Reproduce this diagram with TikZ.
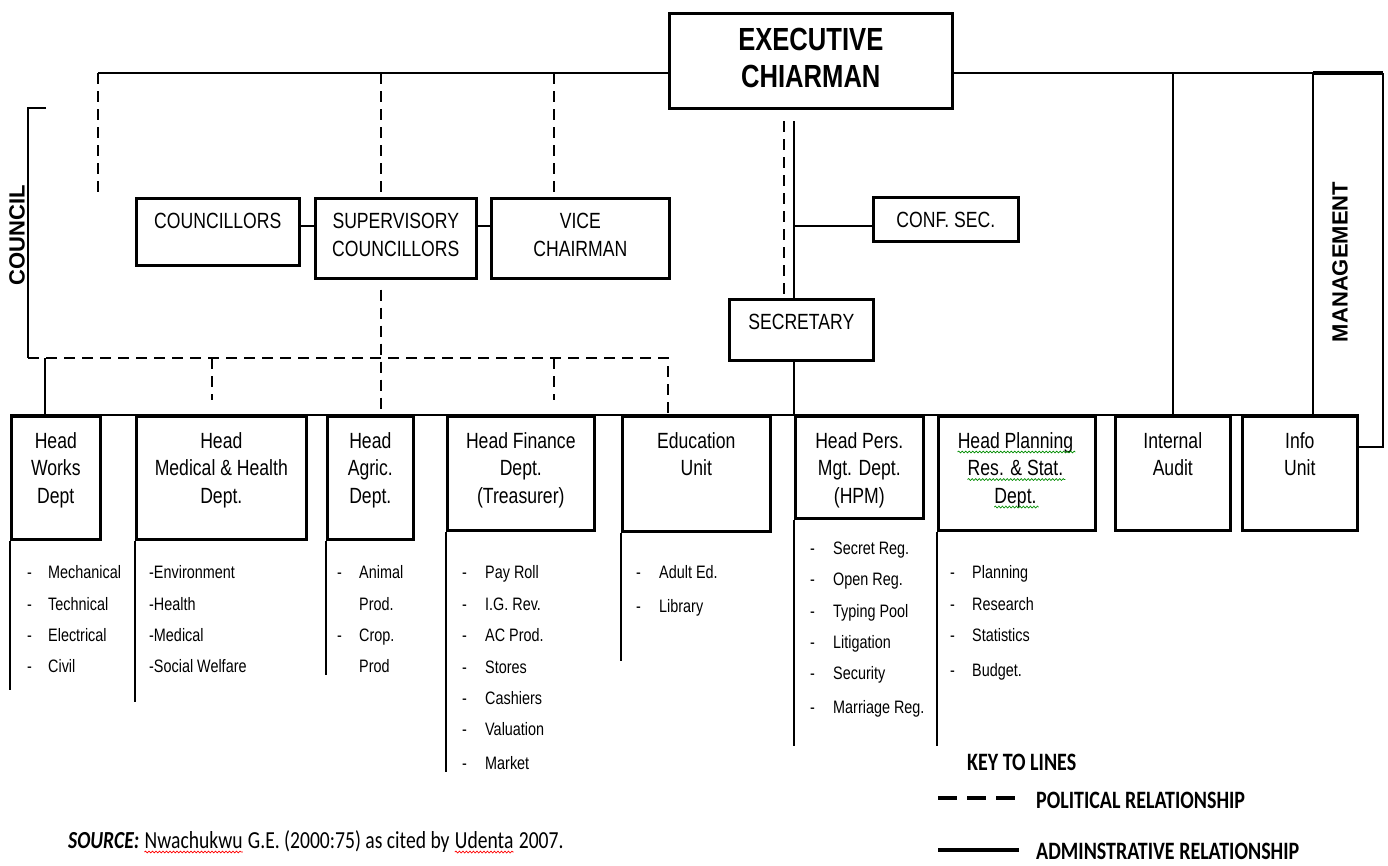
\documentclass[tikz,border=0pt]{standalone}
\usepackage{fontspec}
\setmainfont{Liberation Sans}[FakeStretch=0.8]
\newfontfamily\sidefont{Liberation Sans}
\newfontfamily\keyfont{Carlito}[FakeStretch=0.8]
\usetikzlibrary{positioning,calc,decorations.pathmorphing}

\begin{document}
\begin{tikzpicture}[x=1pt,y=-1pt,
    box/.style ={
        draw,
        line width=2.6pt,
        anchor=north west,
        inner sep=0pt
    },
    boxtext/.style ={
        anchor=north,
        align=center,
        inner sep=0pt,
        font=\fontsize{22}{27.5}\selectfont
    },
    planline/.style ={
        anchor=base,
        inner sep=0pt,
        font=\fontsize{22}{27.5}\selectfont
    },
    item/.style ={
        anchor=base west,
        inner sep=0pt,
        yshift=-6pt,
        font=\fontsize{18}{20}\selectfont
    },
    src/.style ={
        inner sep=0pt,
        font=\keyfont\fontsize{24.5}{26}\selectfont
    },
    keytext/.style ={
        anchor=west,
        inner sep=0pt,
        font=\keyfont\fontsize{25}{27}\selectfont\bfseries
    },
    wave/.style ={
        line width=0.7pt,
        decorate,
        decoration={snake, amplitude=0.9pt, segment length=3.5pt}
    },
    admin/.style ={line width=2.2pt},
    pol/.style ={line width=2.2pt, dash pattern=on 11pt off 7pt}
    ]
    \useasboundingbox (0,0) rectangle (1388,865);

    \node[box, minimum width=283pt, minimum height=95pt] (exec) at (668,12) {};
    \node[boxtext, font=\fontsize{32}{37}\selectfont\bfseries, below=16pt of exec.north] (exec-t) {EXECUTIVE\\CHIARMAN};

    \foreach \n/\x/\y/\w/\h/\t in {coun/135/197/163/67/COUNCILLORS, sup/314/197/161/80/{SUPERVISORY\\COUNCILLORS},
                                   vice/490/197/178/80/{VICE\\CHAIRMAN}, conf/872/196/145/44/{CONF. SEC.},
                                   sec/728/298/144/61/SECRETARY}
    {
        \node[box, minimum width=\w, minimum height=\h] (\n) at (\x,\y) {};
        \node[boxtext, below=16pt of \n.north] (\n-t) {\t};
    }

    \foreach \n/\x/\w/\h/\t in {works/10/89/123/{Head\\Works\\Dept}, med/135/170/123/{Head\\Medical \& Health\\Dept.},
                                agric/326/86/123/{Head\\Agric.\\Dept.}, fin/446/147/114/{Head Finance\\Dept.\\(Treasurer)},
                                edu/621/148/115/{Education\\Unit}, hpm/794/128/102/{Head Pers.\\Mgt. Dept.\\(HPM)},
                                plan/937/157/114/{}, audit/1114/115/114/{Internal\\Audit}, info/1241/115/114/{Info\\Unit}}
    {
        \node[box, minimum width=\w, minimum height=\h] (\n) at (\x,415) {};
        \node[boxtext, below=17pt of \n.north] (\n-t) {\t};
    }
    \foreach \i/\y/\t in {1/448/Head Planning, 2/475.5/Res. \& Stat., 3/503/Dept.}
    {
        \node[planline] (plan-t\i) at (1015.5,\y) {\t};
        \draw[wave, green!55!black] ($(plan-t\i.base west)+(0,4)$) -- ($(plan-t\i.base east)+(2,4)$);
    }

    \node[rotate=90, inner sep=0pt, font=\sidefont\fontsize{22}{24}\selectfont\bfseries] (council) at (17,235) {COUNCIL};
    \node[rotate=90, inner sep=0pt, font=\sidefont\fontsize{22}{24}\selectfont\bfseries] (mgmt) at (1340,262) {MANAGEMENT};

    \coordinate (tl) at (98,73);
    \coordinate (tr) at (1383,73);
    \coordinate (mg) at (1313,73);
    \coordinate (mgb) at (1383,447);
    \coordinate (sd) at (381,73);
    \coordinate (vd) at (554,73);
    \coordinate (ed) at (794,121);
    \coordinate (edp) at (784,121);
    \coordinate (cs) at (794,226);
    \coordinate (cb1) at (46,108);
    \coordinate (cb2) at (28,108);
    \coordinate (cb3) at (28,358);
    \coordinate (pb) at (668,358);
    \coordinate (wl) at (45,358);

    \draw[admin] (tl) -- (exec.west |- tl);
    \draw[admin] (exec.east |- tr) -- (tr);
    \draw[line width=4pt] (mg) -- (tr);
    \draw[admin] (mg) -- (mg |- info.north);
    \draw[admin] (tr) -- (mgb) -- (info.east |- mgb);
    \draw[admin] (audit.north |- tr) -- (audit.north);
    \draw[admin] (ed) -- (ed |- sec.north);
    \draw[admin] (cs) -- (conf.west |- cs);
    \draw[admin] (ed |- sec.south) -- (ed |- hpm.north);
    \draw[admin] (coun.east |- cs) -- (sup.west |- cs);
    \draw[admin] (sup.east |- cs) -- (vice.west |- cs);
    \draw[admin] (cb1) -- (cb2) -- (cb3);
    \draw[admin] (wl) -- (wl |- works.north);
    \draw[admin] (works.north west) -- (info.north east);
    \foreach \n/\l in {works/149, med/161, agric/134, fin/240, edu/128, hpm/226, plan/214}
        \draw[admin] (\n.south west) -- ++(0,\l);

    \draw[pol] (tl) -- (tl |- coun.north);
    \draw[pol] (sd) -- (sd |- sup.north);
    \draw[pol] (vd) -- (vd |- vice.north);
    \draw[pol] (edp) -- (edp |- sec.north);
    \draw[pol] ($(sd |- sup.south)+(0,10)$) -- (sd |- fin.north);
    \draw[pol] (cb3) -- (pb) -- (pb |- edu.north);
    \foreach \x in {212, 554}
        \draw[pol] (\x,358) -- (\x,400);

    \foreach \y/\t in {572/Mechanical, 604/Technical, 635/Electrical, 666/Civil}
    {
        \node[item] (works-d\y) at (27,\y) {-};
        \node[item] (works-i\y) at (48,\y) {\t};
    }
    \foreach \y/\t in {572/-Environment, 604/-Health, 635/-Medical, 666/-Social Welfare}
        \node[item] (med-i\y) at (149,\y) {\t};
    \foreach \y/\d/\t in {572/-/Animal, 604//Prod., 635/-/Crop., 666//Prod}
    {
        \node[item] (agric-d\y) at (337,\y) {\d};
        \node[item] (agric-i\y) at (359,\y) {\t};
    }
    \foreach \y/\t in {572/Pay Roll, 604/I.G. Rev., 635/AC Prod., 667/Stores, 698/Cashiers, 729/Valuation, 763/Market}
    {
        \node[item] (fin-d\y) at (462,\y) {-};
        \node[item] (fin-i\y) at (485,\y) {\t};
    }
    \foreach \y/\t in {572/Adult Ed., 606/Library}
    {
        \node[item] (edu-d\y) at (636,\y) {-};
        \node[item] (edu-i\y) at (659,\y) {\t};
    }
    \foreach \y/\t in {548/Secret Reg., 579/Open Reg., 611/Typing Pool, 642/Litigation, 673/Security, 707/Marriage Reg.}
    {
        \node[item] (hpm-d\y) at (810,\y) {-};
        \node[item] (hpm-i\y) at (833,\y) {\t};
    }
    \foreach \y/\t in {572/Planning, 604/Research, 635/Statistics, 670/Budget.}
    {
        \node[item] (plan-d\y) at (950,\y) {-};
        \node[item] (plan-i\y) at (972,\y) {\t};
    }

    \coordinate (kp1) at (938,798);
    \coordinate (kp2) at (1019,798);
    \coordinate (ka1) at (938,850);
    \coordinate (ka2) at (1019,850);
    \node[keytext] (key) at (967,762) {KEY TO LINES};
    \draw[line width=3.5pt, dash pattern=on 19pt off 10pt] (kp1) -- (kp2);
    \node[keytext] (key-p) at (1036,800) {POLITICAL RELATIONSHIP};
    \draw[line width=3.5pt] (ka1) -- (ka2);
    \node[keytext] (key-a) at (1036,851) {ADMINSTRATIVE RELATIONSHIP};

    \node[src, anchor=base west] (src1) at (68,848) {\textbf{\textit{SOURCE:}}};
    \node[src, base right=5pt of src1] (src2) {Nwachukwu};
    \node[src, base right=5pt of src2] (src3) {G.E. (2000:75) as cited by};
    \node[src, base right=5pt of src3] (src4) {Udenta};
    \node[src, base right=5pt of src4] (src5) {2007.};
    \foreach \n in {src2, src4}
        \draw[wave, red] ($(\n.base west)+(0,4)$) -- ($(\n.base east)+(0,4)$);
\end{tikzpicture}
\end{document}
